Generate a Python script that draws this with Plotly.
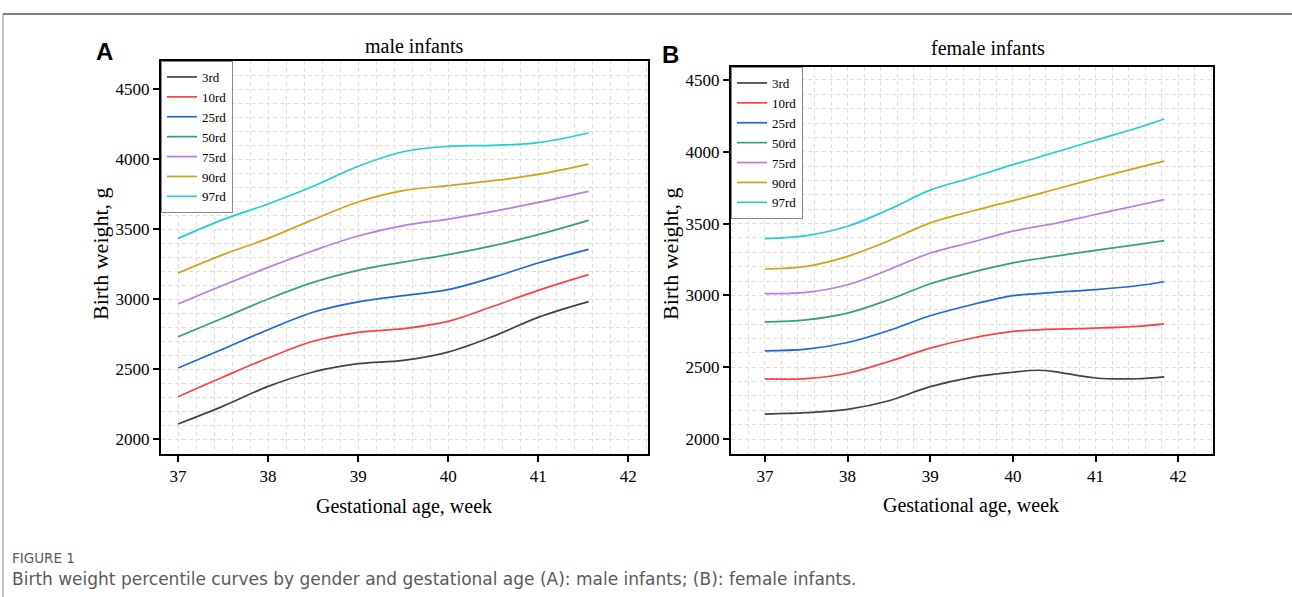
import plotly.graph_objects as go

# ---------------- data ----------------
percentile_labels = ["3rd", "10rd", "25rd", "50rd", "75rd", "90rd", "97rd"]
line_colors = ["#444444", "#ff4040", "#2266dd", "#35a46c", "#b57ee6", "#d4a214", "#1fcfd6"]

male_weeks = [37, 37.5, 38, 38.5, 39, 39.5, 40, 40.5, 41, 41.56]
male_3 = [2107, 2235, 2376, 2479, 2538, 2562, 2621, 2733, 2869, 2981]
male_10 = [2302, 2443, 2579, 2698, 2762, 2788, 2840, 2948, 3062, 3174]
male_25 = [2507, 2643, 2781, 2905, 2979, 3024, 3067, 3155, 3257, 3355]
male_50 = [2731, 2864, 3000, 3119, 3205, 3264, 3317, 3381, 3460, 3562]
male_75 = [2964, 3098, 3226, 3345, 3450, 3524, 3571, 3626, 3690, 3769]
male_90 = [3186, 3317, 3433, 3567, 3693, 3774, 3810, 3845, 3890, 3964]
male_97 = [3433, 3567, 3679, 3805, 3948, 4052, 4090, 4098, 4117, 4186]

female_weeks = [37, 37.5, 38, 38.5, 39, 39.5, 40, 40.3, 40.5, 41, 41.5, 41.83]
female_3 = [2174, 2184, 2207, 2267, 2365, 2430, 2465, 2479, 2470, 2425, 2420, 2433]
female_10 = [2419, 2421, 2458, 2540, 2633, 2702, 2749, 2760, 2765, 2772, 2784, 2802]
female_25 = [2614, 2626, 2672, 2756, 2858, 2935, 2998, 3012, 3021, 3040, 3067, 3095]
female_50 = [2816, 2830, 2877, 2970, 3081, 3160, 3226, 3255, 3272, 3314, 3353, 3381]
female_75 = [3012, 3021, 3074, 3179, 3295, 3370, 3447, 3480, 3500, 3563, 3626, 3667]
female_90 = [3184, 3202, 3272, 3381, 3505, 3586, 3660, 3705, 3737, 3814, 3888, 3935]
female_97 = [3395, 3416, 3481, 3598, 3733, 3819, 3910, 3960, 3995, 4080, 4165, 4228]

male_series = [male_3, male_10, male_25, male_50, male_75, male_90, male_97]
female_series = [female_3, female_10, female_25, female_50, female_75, female_90, female_97]

x_ticks = [37, 38, 39, 40, 41, 42]
y_ticks = [2000, 2500, 3000, 3500, 4000, 4500]

# ---------------- figure ----------------
W, H = 1292, 597
SERIF = "Liberation Serif"

fig = go.Figure()

for lab, col, ys in zip(percentile_labels, line_colors, male_series):
    fig.add_trace(go.Scatter(x=male_weeks, y=ys, mode="lines", name=lab,
                             line=dict(color=col, width=1.7, shape="spline"),
                             xaxis="x", yaxis="y", legend="legend"))
for lab, col, ys in zip(percentile_labels, line_colors, female_series):
    fig.add_trace(go.Scatter(x=female_weeks, y=ys, mode="lines", name=lab,
                             line=dict(color=col, width=1.7, shape="spline"),
                             xaxis="x2", yaxis="y2", legend="legend2"))


def px_x(p):
    return p / W


def px_y(p):
    return 1 - p / H


grid_col = "#dedede"
grid_dash = "4px,3px"


def axis(**kw):
    d = dict(
        showline=True, linecolor="black", linewidth=2, mirror=True,
        ticks="outside", ticklen=6, tickwidth=1.5, tickcolor="black",
        showgrid=True, gridcolor=grid_col, griddash=grid_dash, gridwidth=1,
        zeroline=False,
        tickfont=dict(family=SERIF, size=17, color="black"),
    )
    d.update(kw)
    return d


fig.update_layout(
    width=W, height=H,
    margin=dict(l=0, r=0, t=0, b=0),
    paper_bgcolor="white", plot_bgcolor="white",
    font=dict(family=SERIF, size=16, color="black"),
    showlegend=True,
    xaxis=axis(domain=[px_x(161), px_x(648)], range=[36.81, 42.22], tickvals=x_ticks,
               anchor="y",
               minor=dict(dtick=0.2, showgrid=True, gridcolor=grid_col, griddash=grid_dash, ticks="")),
    yaxis=axis(domain=[px_y(454), px_y(61)], range=[1893, 4700], tickvals=y_ticks,
               anchor="x",
               minor=dict(dtick=100, showgrid=True, gridcolor=grid_col, griddash=grid_dash, ticks="")),
    xaxis2=axis(domain=[px_x(731), px_x(1213)], range=[36.59, 42.42], tickvals=x_ticks,
                anchor="y2",
                minor=dict(dtick=0.2, showgrid=True, gridcolor=grid_col, griddash=grid_dash, ticks="")),
    yaxis2=axis(domain=[px_y(454), px_y(67)], range=[1896, 4590], tickvals=y_ticks,
                anchor="x2",
                minor=dict(dtick=100, showgrid=True, gridcolor=grid_col, griddash=grid_dash, ticks="")),
    legend=dict(x=px_x(161), y=px_y(61), xanchor="left", yanchor="top",
                bgcolor="white", bordercolor="#888888", borderwidth=1,
                font=dict(family=SERIF, size=13, color="black"),
                tracegroupgap=0, itemwidth=30),
    legend2=dict(x=px_x(731), y=px_y(67), xanchor="left", yanchor="top",
                 bgcolor="white", bordercolor="#888888", borderwidth=1,
                 font=dict(family=SERIF, size=13, color="black"),
                 tracegroupgap=0, itemwidth=30),
)

annotations = [
    dict(text="<b>A</b>", x=px_x(104), y=px_y(51), font=dict(family="Liberation Sans", size=24, color="black")),
    dict(text="<b>B</b>", x=px_x(670), y=px_y(55), font=dict(family="Liberation Sans", size=24, color="black")),
    dict(text="male infants", x=px_x(414), y=px_y(46), font=dict(family=SERIF, size=20, color="black")),
    dict(text="female infants", x=px_x(988), y=px_y(48), font=dict(family=SERIF, size=20, color="black")),
    dict(text="Gestational age, week", x=px_x(404), y=px_y(506), font=dict(family=SERIF, size=20, color="black")),
    dict(text="Gestational age, week", x=px_x(971), y=px_y(505), font=dict(family=SERIF, size=20, color="black")),
    dict(text="Birth weight, g", x=px_x(101), y=px_y(254), textangle=-90,
         font=dict(family=SERIF, size=22, color="black")),
    dict(text="Birth weight, g", x=px_x(671), y=px_y(254), textangle=-90,
         font=dict(family=SERIF, size=22, color="black")),
    dict(text="FIGURE 1", x=px_x(10), y=px_y(558), xanchor="left",
         font=dict(family="DejaVu Sans", size=13.5, color="#5a5a5a")),
    dict(text="Birth weight percentile curves by gender and gestational age (A): male infants; (B): female infants.",
         x=px_x(10), y=px_y(579), xanchor="left",
         font=dict(family="DejaVu Sans", size=17, color="#5a5a5a")),
]
for a in annotations:
    a.setdefault("xref", "paper")
    a.setdefault("yref", "paper")
    a.setdefault("showarrow", False)
    a.setdefault("xanchor", "center")
    a.setdefault("yanchor", "middle")
fig.update_layout(annotations=annotations)

fig.add_shape(type="line", xref="paper", yref="paper", x0=px_x(3), x1=1, y0=px_y(14), y1=px_y(14),
              line=dict(color="#555555", width=1.5))
fig.add_shape(type="line", xref="paper", yref="paper", x0=px_x(3), x1=px_x(3), y0=px_y(14), y1=0,
              line=dict(color="#888888", width=1))

fig.write_html("out.html")
